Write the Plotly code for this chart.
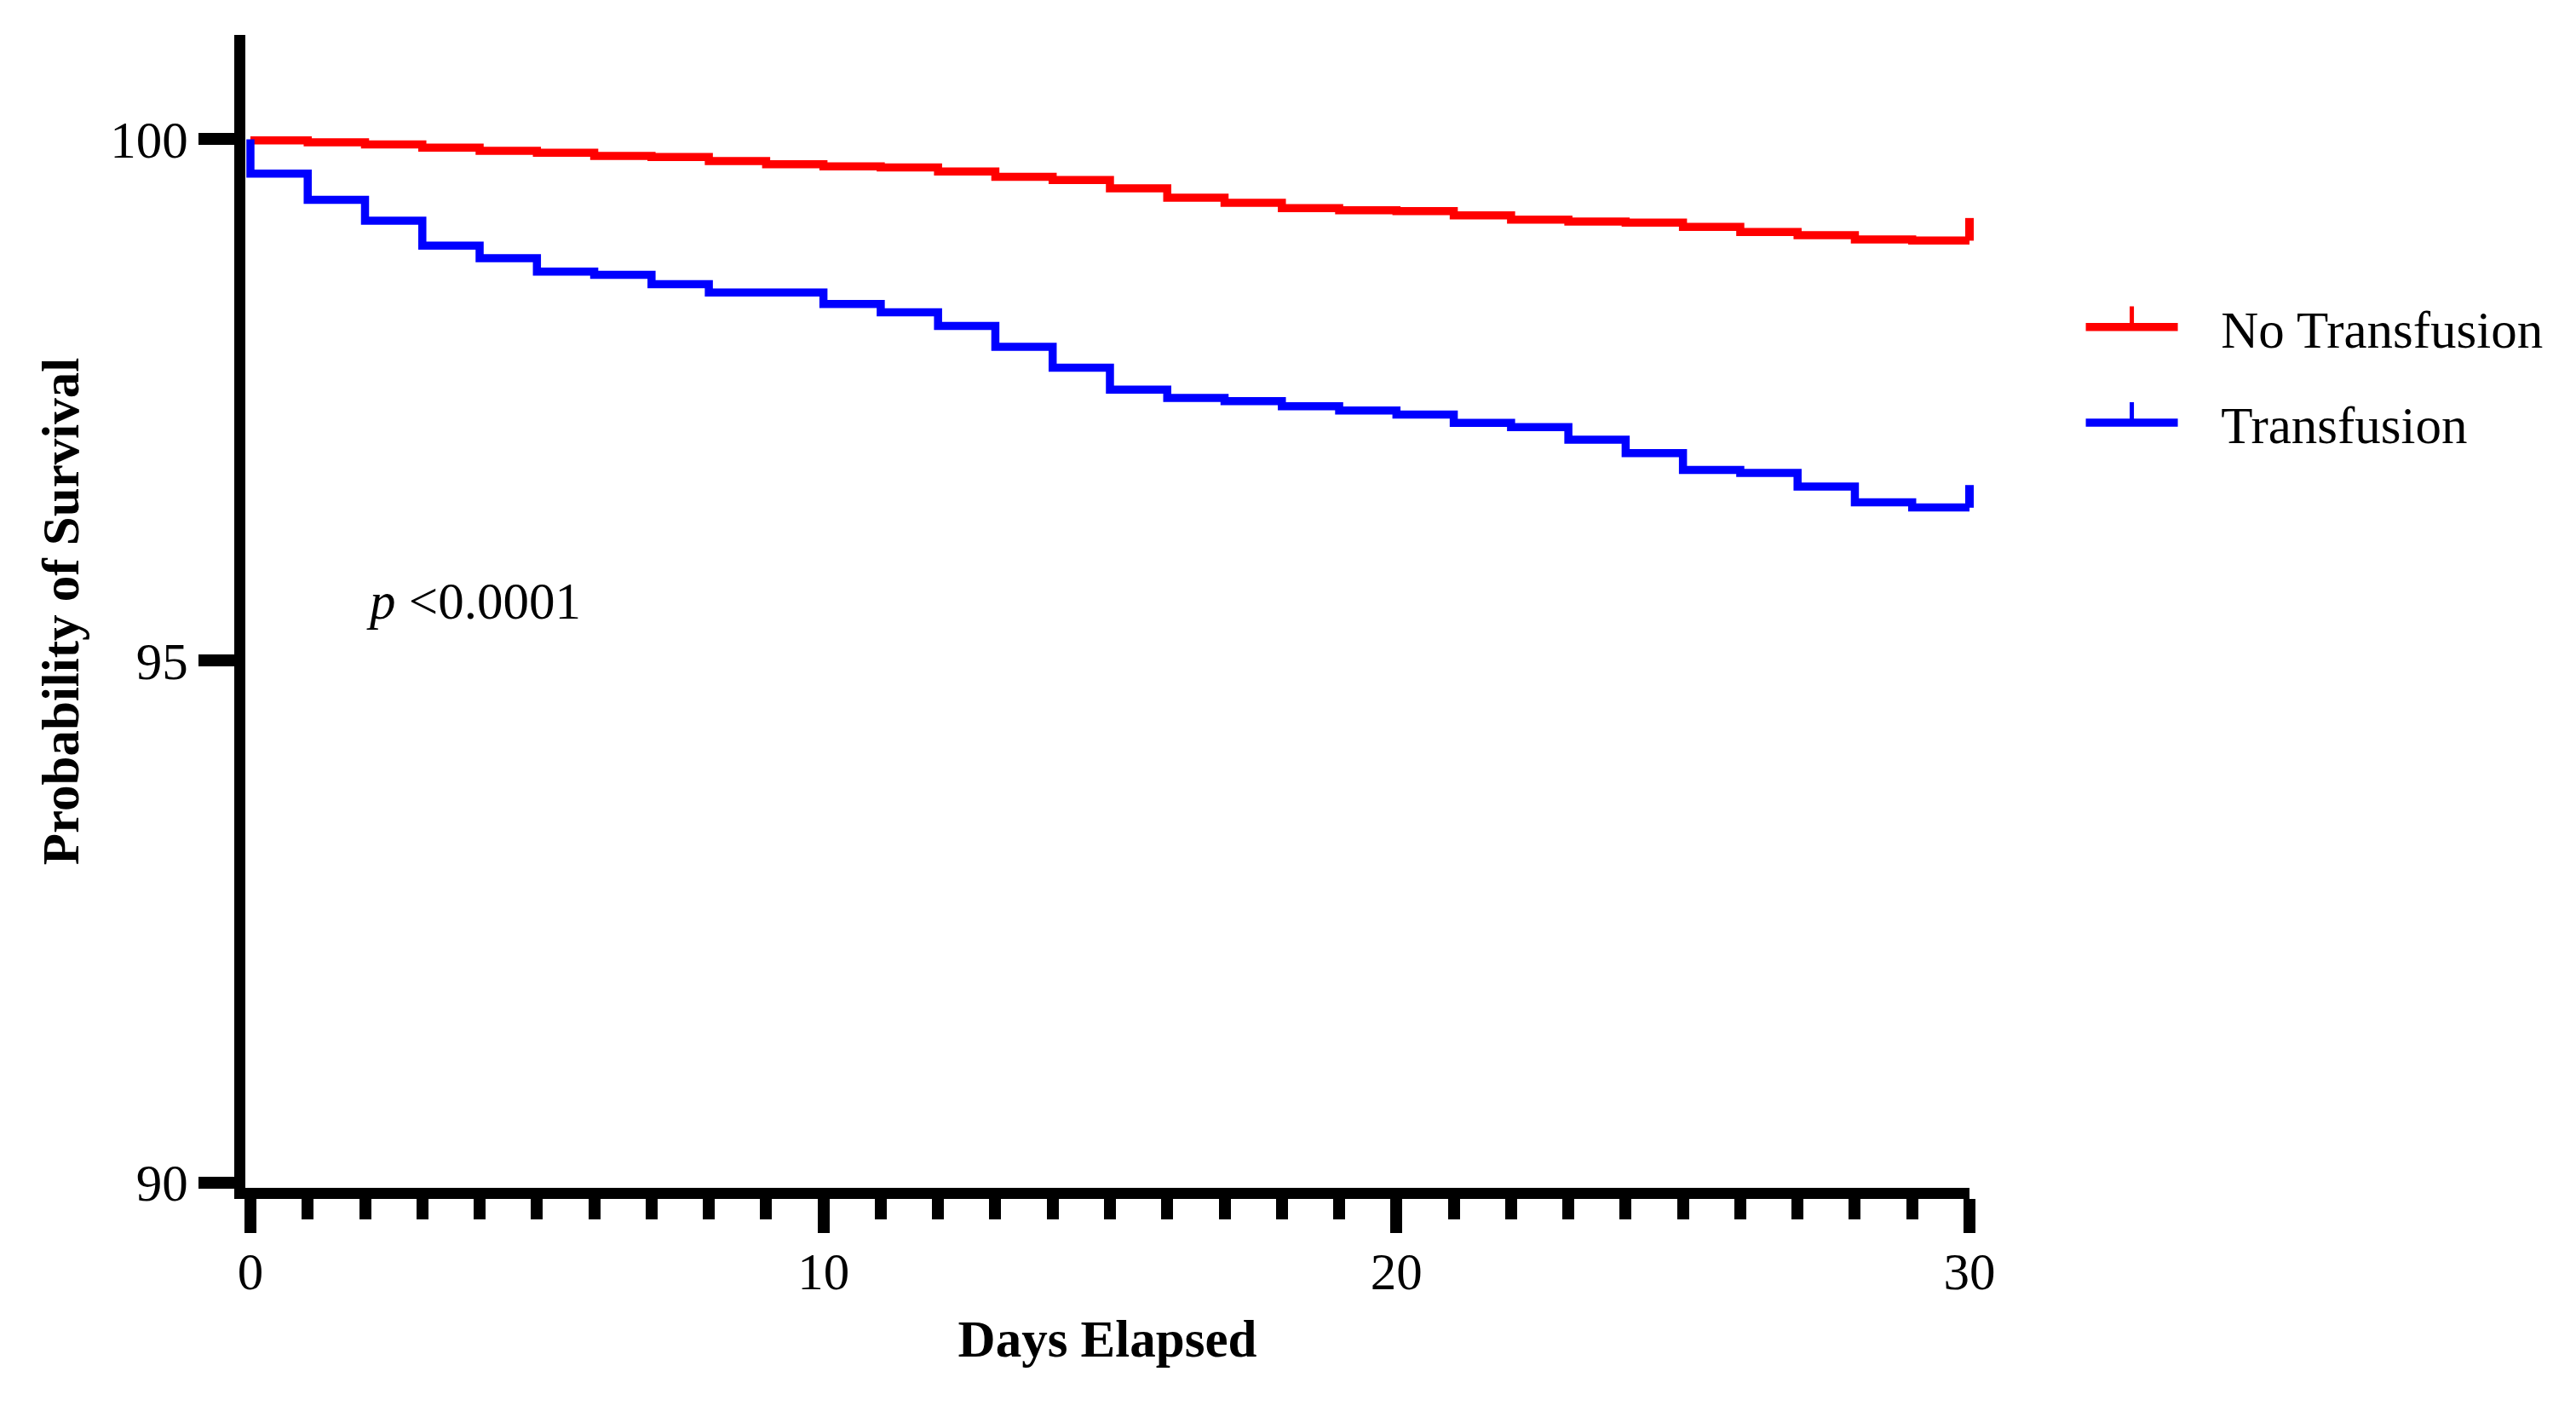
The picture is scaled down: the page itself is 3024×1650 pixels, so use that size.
import plotly.graph_objects as go

# ---- data ----
days = list(range(0, 31))
no_transfusion = [99.99, 99.97, 99.95, 99.92, 99.89, 99.87, 99.84, 99.83, 99.79, 99.76,
                  99.74, 99.73, 99.69, 99.64, 99.61, 99.53, 99.44, 99.39, 99.34, 99.32,
                  99.31, 99.27, 99.23, 99.21, 99.20, 99.16, 99.11, 99.08, 99.04, 99.03, 99.03]
transfusion_start = 100.0
transfusion = [99.67, 99.42, 99.22, 98.98, 98.86, 98.73, 98.70, 98.61, 98.53, 98.53,
               98.42, 98.34, 98.21, 98.01, 97.81, 97.60, 97.52, 97.49, 97.44, 97.40,
               97.36, 97.28, 97.24, 97.12, 96.99, 96.83, 96.80, 96.67, 96.52, 96.47, 96.47]
series_names = ["No Transfusion", "Transfusion"]
series_colors = ["#ff0000", "#0000ff"]
y_ticks = [90, 95, 100]
x_major_ticks = [0, 10, 20, 30]
p_text = "<i>p</i> <0.0001"

FONT = "Liberation Serif, Times New Roman, serif"
FS = 61
LW = 9.5

fig = go.Figure()

series = [
    (series_names[0], series_colors[0], days, no_transfusion),
    (series_names[1], series_colors[1], [0] + days, [transfusion_start] + transfusion),
]
for i, (name, color, xs, ys) in enumerate(series):
    fig.add_trace(go.Scatter(
        x=xs, y=ys, mode="lines", line=dict(color=color, width=LW, shape="hv"),
        showlegend=False, legendgroup=f"g{i}", hoverinfo="skip"))
    # censor tick at the last follow-up point (also provides the legend entry);
    # the leading empty point only sets the marker orientation used in the legend
    fig.add_trace(go.Scatter(
        x=[None, xs[-1]], y=[None, ys[-1]], mode="lines+markers",
        name="\u00a0\u00a0\u00a0" + name, legendgroup=f"g{i}",
        line=dict(color=color, width=LW),
        marker=dict(symbol="line-ns", size=19, angle=[0, 180], standoff=13,
                    color=color, line=dict(color=color, width=10)),
        cliponaxis=False, hoverinfo="skip"))

fig.add_annotation(x=1.99, y=95.57, xref="x", yref="y", text=p_text, showarrow=False,
                   xanchor="left", yanchor="middle", font=dict(family=FONT, size=FS, color="black"))

# the page body has an 8px default margin, so the figure is offset by 8px
fig.update_layout(
    width=3024, height=1650,
    margin=dict(l=280, r=720, t=33, b=264),
    paper_bgcolor="white", plot_bgcolor="white",
    font=dict(family=FONT, size=FS, color="black"),
    legend=dict(x=1.065, xanchor="left", y=0.705, yanchor="middle",
                traceorder="grouped", tracegroupgap=30, itemwidth=108,
                font=dict(family=FONT, size=FS, color="black"), bgcolor="rgba(0,0,0,0)"),
    xaxis=dict(range=[-0.0887, 30], showgrid=False, zeroline=False,
               showline=True, linecolor="black", linewidth=13,
               tickmode="array", tickvals=x_major_ticks, ticks="outside",
               ticklen=40, tickwidth=14, tickcolor="black", ticklabelstandoff=-7,
               minor=dict(dtick=1, tick0=0, ticks="outside", ticklen=24, tickwidth=14, tickcolor="black"),
               tickfont=dict(family=FONT, size=FS, color="black"),
               title=dict(text="<b>Days Elapsed</b>", font=dict(family=FONT, size=FS, color="black"), standoff=30)),
    yaxis=dict(range=[89.947, 101], showgrid=False, zeroline=False,
               showline=True, linecolor="black", linewidth=13,
               tickmode="array", tickvals=y_ticks, ticks="outside",
               ticklen=42, tickwidth=14, tickcolor="black",
               tickfont=dict(family=FONT, size=FS, color="black"),
               title=dict(text="<b>Probability of Survival</b>", font=dict(family=FONT, size=FS, color="black"), standoff=22)),
)

fig.write_html("out.html")
